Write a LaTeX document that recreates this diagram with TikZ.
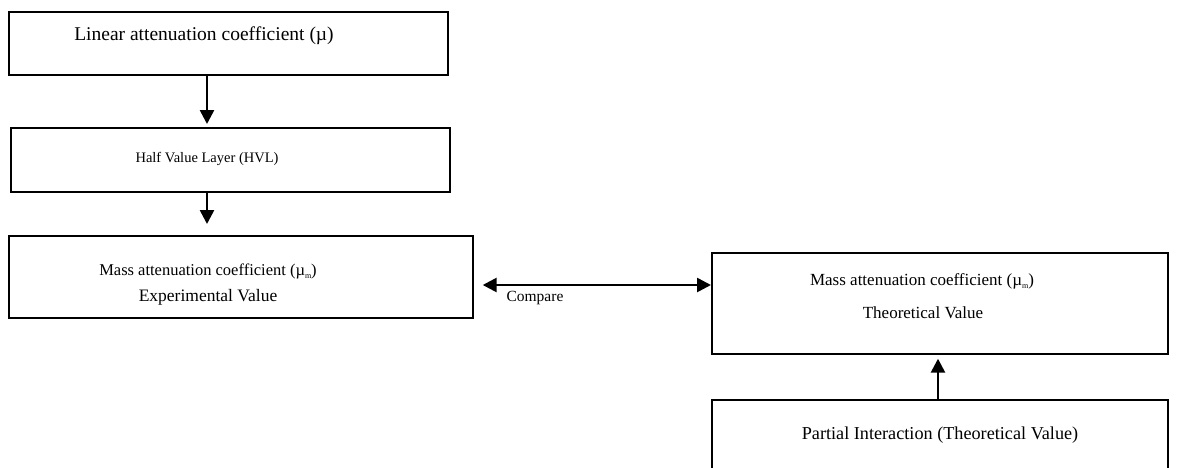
\documentclass[tikz,border=0pt]{standalone}
\usepackage{fontspec}
\setmainfont{Liberation Serif}
\usetikzlibrary{arrows.meta,calc}
\newcommand{\musub}{(µ{\fontsize{8}{8}\selectfont\raisebox{-3pt}{m}})}
\begin{document}
\begin{tikzpicture}[x=1pt,y=-1pt,
  boxst/.style={draw,line width=1.7pt,rectangle,inner sep=0pt,anchor=north west},
  lbl/.style={inner sep=0pt},
  arr/.style={line width=2.6pt,-{Triangle[length=14pt,width=14pt]}},
  darr/.style={line width=2.6pt,{Triangle[length=14pt,width=14pt]}-{Triangle[length=14pt,width=14pt]}}]
\useasboundingbox (0,0) rectangle (1178,467);
\clip (0,0) rectangle (1178,467);
\fill[white] (0,0) rectangle (1178,467);
% boxes
\node[boxst,minimum width=439pt,minimum height=63pt] (b1) at (8,11) {};
\node[boxst,minimum width=439pt,minimum height=64pt] (b2) at (10,127) {};
\node[boxst,minimum width=464pt,minimum height=82pt] (b3) at (8,235) {};
\node[boxst,minimum width=456pt,minimum height=101pt] (b4) at (711,252) {};
\node[boxst,minimum width=456pt,minimum height=90pt] (b5) at (711,399) {};
% texts
\node[lbl,font=\fontsize{19.5}{23}\selectfont] (t1) at (204,36) {Linear attenuation coefficient (µ)};
\node[lbl,font=\fontsize{14.5}{17}\selectfont] (t2) at (207,159) {Half Value Layer (HVL)};
\node[lbl,font=\fontsize{16.5}{20}\selectfont] (t3a) at (208,271) {Mass attenuation coefficient \musub};
\node[lbl,font=\fontsize{17.5}{21}\selectfont] (t3b) at (208,297) {Experimental Value};
\node[lbl,font=\fontsize{17}{20}\selectfont] (t4a) at (922,281) {Mass attenuation coefficient \musub};
\node[lbl,font=\fontsize{17}{20}\selectfont] (t4b) at (923,313) {Theoretical Value};
\node[lbl,font=\fontsize{18.2}{22}\selectfont] (t5) at (940,435) {Partial Interaction (Theoretical Value)};
\node[lbl,font=\fontsize{15.5}{18}\selectfont] (tc) at (535,298) {Compare};
% connectors
\coordinate (c1) at (207,0);
\coordinate (c2) at (938,0);
\coordinate (ch) at (0,285);
\draw[arr] (b1.south -| c1) -- ($(b2.north -| c1)+(0,-3)$);
\draw[arr] (b2.south -| c1) -- ($(b3.north -| c1)+(0,-11)$);
\draw[darr,shorten <=9pt] (b3.east |- ch) -- (b4.west |- ch);
\draw[arr] (b5.north -| c2) -- ($(b4.south -| c2)+(0,4)$);
\end{tikzpicture}
\end{document}
